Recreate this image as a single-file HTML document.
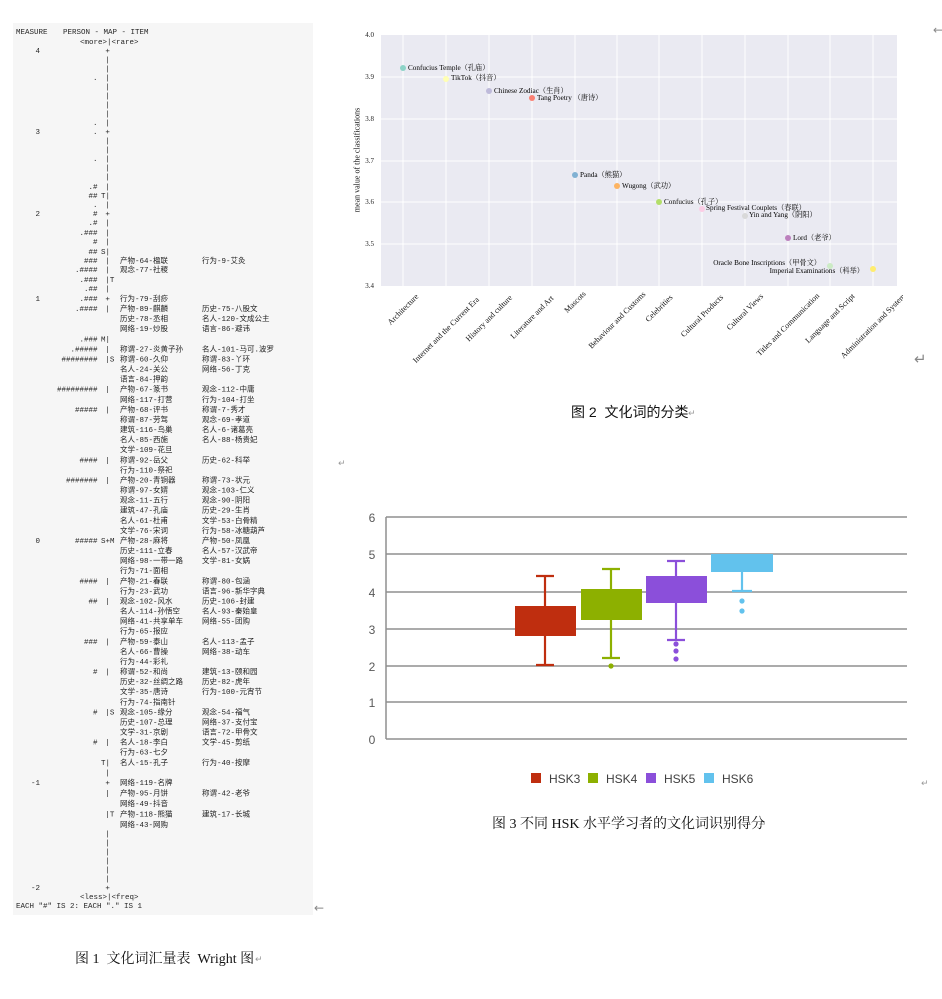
<!DOCTYPE html>
<html>
<head>
<meta charset="utf-8">
<style>
html,body{margin:0;padding:0;background:#fff;}
svg{display:block;}
</style>
</head>
<body>
<svg width="942" height="999" viewBox="0 0 942 999" xmlns="http://www.w3.org/2000/svg">
<rect x="0" y="0" width="942" height="999" fill="#ffffff"/>

<!-- ================= Figure 1: Wright map ================= -->
<rect x="13" y="23" width="300" height="892" fill="#f6f6f6"/>
<g font-family="'Liberation Mono','Noto Sans CJK SC',monospace" font-size="7.5" fill="#262626" dominant-baseline="central">
  <text x="16" y="33">MEASURE</text>
  <text x="63" y="33">PERSON - MAP - ITEM</text>
  <text x="80" y="43">&lt;more&gt;|&lt;rare&gt;</text>

  <!-- measure labels -->
  <g text-anchor="end">
    <text x="40" y="52">4</text>
    <text x="40" y="133">3</text>
    <text x="40" y="215">2</text>
    <text x="40" y="300">1</text>
    <text x="40" y="542">0</text>
    <text x="40" y="784">-1</text>
    <text x="40" y="889">-2</text>
  </g>

  <!-- person column -->
  <g text-anchor="end">
    <text x="97.5" y="79">.</text>
    <text x="97.5" y="124">.</text>
    <text x="97.5" y="133">.</text>
    <text x="97.5" y="160">.</text>
    <text x="97.5" y="188">.#</text>
    <text x="97.5" y="197">##</text>
    <text x="97.5" y="206">.</text>
    <text x="97.5" y="215">#</text>
    <text x="97.5" y="224">.#</text>
    <text x="97.5" y="234">.###</text>
    <text x="97.5" y="243">#</text>
    <text x="97.5" y="253">##</text>
    <text x="97.5" y="262">###</text>
    <text x="97.5" y="271">.####</text>
    <text x="97.5" y="281">.###</text>
    <text x="97.5" y="290">.##</text>
    <text x="97.5" y="300">.###</text>
    <text x="97.5" y="310.1">.####</text>
    <text x="97.5" y="340.3">.###</text>
    <text x="97.5" y="350.4">.#####</text>
    <text x="97.5" y="360.5">########</text>
    <text x="97.5" y="390.7">#########</text>
    <text x="97.5" y="410.9">#####</text>
    <text x="97.5" y="461.3">####</text>
    <text x="97.5" y="481.4">#######</text>
    <text x="97.5" y="541.9">#####</text>
    <text x="97.5" y="582.3">####</text>
    <text x="97.5" y="602.5">##</text>
    <text x="97.5" y="642.8">###</text>
    <text x="97.5" y="673">#</text>
    <text x="97.5" y="713.4">#</text>
    <text x="97.5" y="743.6">#</text>
  </g>

  <!-- center column -->
  <text x="105.4" y="52">+</text>
  <text x="105.4" y="61">|</text>
  <text x="105.4" y="70">|</text>
  <text x="105.4" y="79">|</text>
  <text x="105.4" y="88">|</text>
  <text x="105.4" y="97">|</text>
  <text x="105.4" y="106">|</text>
  <text x="105.4" y="115">|</text>
  <text x="105.4" y="124">|</text>
  <text x="105.4" y="133">+</text>
  <text x="105.4" y="142">|</text>
  <text x="105.4" y="151">|</text>
  <text x="105.4" y="160">|</text>
  <text x="105.4" y="169">|</text>
  <text x="105.4" y="178">|</text>
  <text x="105.4" y="188">|</text>
  <text x="101" y="197">T|</text>
  <text x="105.4" y="206">|</text>
  <text x="105.4" y="215">+</text>
  <text x="105.4" y="224">|</text>
  <text x="105.4" y="234">|</text>
  <text x="105.4" y="243">|</text>
  <text x="101" y="253">S|</text>
  <text x="105.4" y="262">|</text>
  <text x="105.4" y="271">|</text>
  <text x="105.4" y="281">|T</text>
  <text x="105.4" y="290">|</text>
  <text x="105.4" y="300">+</text>
  <text x="105.4" y="310.1">|</text>
  <text x="101" y="340.3">M|</text>
  <text x="105.4" y="350.4">|</text>
  <text x="105.4" y="360.5">|S</text>
  <text x="105.4" y="390.7">|</text>
  <text x="105.4" y="410.9">|</text>
  <text x="105.4" y="461.3">|</text>
  <text x="105.4" y="481.4">|</text>
  <text x="101" y="541.9">S+M</text>
  <text x="105.4" y="582.3">|</text>
  <text x="105.4" y="602.5">|</text>
  <text x="105.4" y="642.8">|</text>
  <text x="105.4" y="673">|</text>
  <text x="105.4" y="713.4">|S</text>
  <text x="105.4" y="743.6">|</text>
  <text x="101" y="763.8">T|</text>
  <text x="105.4" y="773.8">|</text>
  <text x="105.4" y="784">+</text>
  <text x="105.4" y="794.5">|</text>
  <text x="105.4" y="815.5">|T</text>
  <text x="105.4" y="835">|</text>
  <text x="105.4" y="844">|</text>
  <text x="105.4" y="853">|</text>
  <text x="105.4" y="862">|</text>
  <text x="105.4" y="871">|</text>
  <text x="105.4" y="880">|</text>
  <text x="105.4" y="889">+</text>
  <text x="80" y="898">&lt;less&gt;|&lt;freq&gt;</text>
  <text x="16" y="907">EACH "#" IS 2: EACH "." IS 1</text>

  <!-- items column 1 -->
  <g fill="#222">
    <text x="120" y="262">产物-64-楹联</text>
    <text x="120" y="271">观念-77-社稷</text>
    <text x="120" y="300">行为-79-刮痧</text>
    <text x="120" y="310.1">产物-89-麒麟</text>
    <text x="120" y="320.2">历史-78-丞相</text>
    <text x="120" y="330.2">网络-19-炒股</text>
    <text x="120" y="350.4">称谓-27-炎黄子孙</text>
    <text x="120" y="360.5">称谓-60-久仰</text>
    <text x="120" y="370.6">名人-24-关公</text>
    <text x="120" y="380.6">语言-84-押韵</text>
    <text x="120" y="390.7">产物-67-篆书</text>
    <text x="120" y="400.8">网络-117-打营</text>
    <text x="120" y="410.9">产物-68-评书</text>
    <text x="120" y="421">称谓-87-劳驾</text>
    <text x="120" y="431">建筑-116-鸟巢</text>
    <text x="120" y="441.1">名人-85-西施</text>
    <text x="120" y="451.2">文学-109-花旦</text>
    <text x="120" y="461.3">称谓-92-岳父</text>
    <text x="120" y="471.4">行为-110-祭祀</text>
    <text x="120" y="481.4">产物-20-青铜器</text>
    <text x="120" y="491.5">称谓-97-女婿</text>
    <text x="120" y="501.6">观念-11-五行</text>
    <text x="120" y="511.7">建筑-47-孔庙</text>
    <text x="120" y="521.8">名人-61-杜甫</text>
    <text x="120" y="531.8">文学-76-宋词</text>
    <text x="120" y="541.9">产物-28-麻将</text>
    <text x="120" y="552.1">历史-111-立春</text>
    <text x="120" y="562.2">网络-98-一带一路</text>
    <text x="120" y="572.2">行为-71-面相</text>
    <text x="120" y="582.3">产物-21-春联</text>
    <text x="120" y="592.4">行为-23-武功</text>
    <text x="120" y="602.5">观念-102-风水</text>
    <text x="120" y="612.6">名人-114-孙悟空</text>
    <text x="120" y="622.6">网络-41-共享单车</text>
    <text x="120" y="632.7">行为-65-报应</text>
    <text x="120" y="642.8">产物-59-泰山</text>
    <text x="120" y="652.9">名人-66-曹操</text>
    <text x="120" y="663">行为-44-彩礼</text>
    <text x="120" y="673">称谓-52-和尚</text>
    <text x="120" y="683.1">历史-32-丝绸之路</text>
    <text x="120" y="693.2">文学-35-唐诗</text>
    <text x="120" y="703.3">行为-74-指南针</text>
    <text x="120" y="713.4">观念-105-缘分</text>
    <text x="120" y="723.4">历史-107-总理</text>
    <text x="120" y="733.5">文学-31-京剧</text>
    <text x="120" y="743.6">名人-18-李白</text>
    <text x="120" y="753.7">行为-63-七夕</text>
    <text x="120" y="763.8">名人-15-孔子</text>
    <text x="120" y="784">网络-119-名牌</text>
    <text x="120" y="794.5">产物-95-月饼</text>
    <text x="120" y="805">网络-49-抖音</text>
    <text x="120" y="815.5">产物-118-熊猫</text>
    <text x="120" y="826">网络-43-网购</text>
  </g>
  <!-- items column 2 -->
  <g fill="#222">
    <text x="202" y="262">行为-9-艾灸</text>
    <text x="202" y="310.1">历史-75-八股文</text>
    <text x="202" y="320.2">名人-120-文成公主</text>
    <text x="202" y="330.2">语言-86-避讳</text>
    <text x="202" y="350.4">名人-101-马可.波罗</text>
    <text x="202" y="360.5">称谓-83-丫环</text>
    <text x="202" y="370.6">网络-56-丁克</text>
    <text x="202" y="390.7">观念-112-中庸</text>
    <text x="202" y="400.8">行为-104-打坐</text>
    <text x="202" y="410.9">称谓-7-秀才</text>
    <text x="202" y="421">观念-69-孝道</text>
    <text x="202" y="431">名人-6-诸葛亮</text>
    <text x="202" y="441.1">名人-88-杨贵妃</text>
    <text x="202" y="461.3">历史-62-科举</text>
    <text x="202" y="481.4">称谓-73-状元</text>
    <text x="202" y="491.5">观念-103-仁义</text>
    <text x="202" y="501.6">观念-90-阴阳</text>
    <text x="202" y="511.7">历史-29-生肖</text>
    <text x="202" y="521.8">文学-53-白骨精</text>
    <text x="202" y="531.8">行为-58-冰糖葫芦</text>
    <text x="202" y="541.9">产物-50-凤凰</text>
    <text x="202" y="552.1">名人-57-汉武帝</text>
    <text x="202" y="562.2">文学-81-女娲</text>
    <text x="202" y="582.3">称谓-80-包涵</text>
    <text x="202" y="592.4">语言-96-新华字典</text>
    <text x="202" y="602.5">历史-106-封建</text>
    <text x="202" y="612.6">名人-93-秦始皇</text>
    <text x="202" y="622.6">网络-55-团购</text>
    <text x="202" y="642.8">名人-113-孟子</text>
    <text x="202" y="652.9">网络-38-动车</text>
    <text x="202" y="673">建筑-13-颐和园</text>
    <text x="202" y="683.1">历史-82-虎年</text>
    <text x="202" y="693.2">行为-100-元宵节</text>
    <text x="202" y="713.4">观念-54-福气</text>
    <text x="202" y="723.4">网络-37-支付宝</text>
    <text x="202" y="733.5">语言-72-甲骨文</text>
    <text x="202" y="743.6">文学-45-剪纸</text>
    <text x="202" y="763.8">行为-40-按摩</text>
    <text x="202" y="794.5">称谓-42-老爷</text>
    <text x="202" y="815.5">建筑-17-长城</text>
  </g>
</g>

<!-- ================= Figure 2: scatter ================= -->
<defs>
  <clipPath id="c2"><rect x="338" y="22" width="565" height="348"/></clipPath>
</defs>
<g clip-path="url(#c2)">
  <rect x="381" y="35" width="516" height="251" fill="#eaeaf2"/>
  <g stroke="#ffffff" stroke-width="1">
    <line x1="381" y1="77" x2="897" y2="77"/>
    <line x1="381" y1="119" x2="897" y2="119"/>
    <line x1="381" y1="161" x2="897" y2="161"/>
    <line x1="381" y1="202" x2="897" y2="202"/>
    <line x1="381" y1="244" x2="897" y2="244"/>
    <line x1="403" y1="35" x2="403" y2="286"/>
    <line x1="446" y1="35" x2="446" y2="286"/>
    <line x1="489" y1="35" x2="489" y2="286"/>
    <line x1="532" y1="35" x2="532" y2="286"/>
    <line x1="575" y1="35" x2="575" y2="286"/>
    <line x1="617" y1="35" x2="617" y2="286"/>
    <line x1="659" y1="35" x2="659" y2="286"/>
    <line x1="702" y1="35" x2="702" y2="286"/>
    <line x1="745" y1="35" x2="745" y2="286"/>
    <line x1="788" y1="35" x2="788" y2="286"/>
    <line x1="830" y1="35" x2="830" y2="286"/>
    <line x1="873" y1="35" x2="873" y2="286"/>
  </g>
  <!-- y ticks -->
  <g font-family="'Liberation Serif',serif" font-size="7" fill="#222" text-anchor="end" dominant-baseline="central">
    <text x="374" y="35">4.0</text>
    <text x="374" y="77">3.9</text>
    <text x="374" y="119">3.8</text>
    <text x="374" y="161">3.7</text>
    <text x="374" y="202">3.6</text>
    <text x="374" y="244">3.5</text>
    <text x="374" y="286">3.4</text>
  </g>
  <text x="0" y="0" transform="translate(357,160) rotate(-90)" font-family="'Liberation Serif',serif" font-size="8" fill="#111" text-anchor="middle" dominant-baseline="central">mean value of the classifications</text>

  <!-- points -->
  <circle cx="403" cy="68" r="3" fill="#8dd3c7"/>
  <circle cx="446" cy="79" r="3" fill="#ffffb3"/>
  <circle cx="489" cy="91" r="3" fill="#bebada"/>
  <circle cx="532" cy="98" r="3" fill="#fb8072"/>
  <circle cx="575" cy="175" r="3" fill="#80b1d3"/>
  <circle cx="617" cy="186" r="3" fill="#fdb462"/>
  <circle cx="659" cy="202" r="3" fill="#b3de69"/>
  <circle cx="702" cy="209" r="3" fill="#fccde5"/>
  <circle cx="745" cy="216" r="3" fill="#d9d9d9"/>
  <circle cx="788" cy="238" r="3" fill="#bc80bd"/>
  <circle cx="830" cy="266" r="3" fill="#ccebc5"/>
  <circle cx="873" cy="269" r="3" fill="#ffed6f"/>

  <g font-family="'Liberation Serif','Noto Serif CJK SC',serif" font-size="7.2" fill="#000" dominant-baseline="central">
    <text x="408" y="68">Confucius Temple（孔庙）</text>
    <text x="451" y="78">TikTok（抖音）</text>
    <text x="494" y="91">Chinese Zodiac（生肖）</text>
    <text x="537" y="98">Tang Poetry （唐诗）</text>
    <text x="580" y="175">Panda（熊猫）</text>
    <text x="622" y="186">Wugong（武功）</text>
    <text x="664" y="202">Confucius（孔子）</text>
    <text x="706" y="208">Spring Festival Couplets（春联）</text>
    <text x="749" y="215">Yin and Yang（阴阳）</text>
    <text x="793" y="238">Lord（老爷）</text>
    <text x="821" y="263" text-anchor="end">Oracle Bone Inscriptions（甲骨文）</text>
    <text x="864" y="271" text-anchor="end">Imperial Examinations（科举）</text>
  </g>

  <!-- x tick labels -->
  <g font-family="'Liberation Serif',serif" font-size="8" fill="#111" text-anchor="middle" dominant-baseline="central">
    <text transform="translate(403,309.4) rotate(-45)">Architecture</text>
    <text transform="translate(446,329.9) rotate(-45)">Internet and the Current Era</text>
    <text transform="translate(489,318.3) rotate(-45)">History and culture</text>
    <text transform="translate(532,317.2) rotate(-45)">Literature and Art</text>
    <text transform="translate(575,302.0) rotate(-45)">Mascots</text>
    <text transform="translate(617,320.1) rotate(-45)">Behaviour and Customs</text>
    <text transform="translate(659,308.3) rotate(-45)">Celebrities</text>
    <text transform="translate(702,315.8) rotate(-45)">Cultural Products</text>
    <text transform="translate(745,311.9) rotate(-45)">Cultural Views</text>
    <text transform="translate(788,324.6) rotate(-45)">Titles and Communication</text>
    <text transform="translate(830,318.3) rotate(-45)">Language and Script</text>
    <text transform="translate(873,326.0) rotate(-45)">Administration and System</text>
  </g>
</g>

<!-- caption 2 -->
<text x="571" y="417" font-family="'Liberation Sans','Noto Sans CJK SC',sans-serif" font-size="14" fill="#111" xml:space="preserve">图 2  文化词的分类</text>
<text x="688" y="416" font-family="'DejaVu Sans',sans-serif" font-size="9" fill="#999">↵</text>
<text x="338" y="466" font-family="'DejaVu Sans',sans-serif" font-size="9" fill="#999">↵</text>

<!-- ================= Figure 3: box plot ================= -->
<g stroke="#8f8f8f" stroke-width="1.5">
  <line x1="386" y1="517" x2="907" y2="517"/>
  <line x1="386" y1="554" x2="907" y2="554"/>
  <line x1="386" y1="592" x2="907" y2="592"/>
  <line x1="386" y1="629" x2="907" y2="629"/>
  <line x1="386" y1="666" x2="907" y2="666"/>
  <line x1="386" y1="702" x2="907" y2="702"/>
  <line x1="386" y1="739" x2="907" y2="739"/>
  <line x1="386" y1="517" x2="386" y2="739"/>
</g>
<g font-family="'Liberation Sans','DejaVu Sans',sans-serif" font-size="12" fill="#595959" text-anchor="middle" dominant-baseline="central">
  <text x="372" y="518">6</text>
  <text x="372" y="555">5</text>
  <text x="372" y="593">4</text>
  <text x="372" y="630">3</text>
  <text x="372" y="667">2</text>
  <text x="372" y="703">1</text>
  <text x="372" y="740">0</text>
</g>

<!-- HSK3 -->
<g stroke="#bf2e0f" stroke-width="2.2" fill="none">
  <line x1="545" y1="576" x2="545" y2="606"/>
  <line x1="545" y1="636" x2="545" y2="665"/>
  <line x1="536" y1="576" x2="554" y2="576"/>
  <line x1="536" y1="665" x2="554" y2="665"/>
</g>
<rect x="515" y="606" width="61" height="30" fill="#bf2e0f"/>

<!-- HSK4 -->
<g stroke="#8db000" stroke-width="2.2" fill="none">
  <line x1="611" y1="569" x2="611" y2="589"/>
  <line x1="611" y1="620" x2="611" y2="658"/>
  <line x1="602" y1="569" x2="620" y2="569"/>
  <line x1="602" y1="658" x2="620" y2="658"/>
</g>
<rect x="581" y="589" width="61" height="31" fill="#8db000"/>
<circle cx="611" cy="666" r="2.6" fill="#8db000"/>

<!-- HSK5 -->
<g stroke="#8b4fda" stroke-width="2.2" fill="none">
  <line x1="676" y1="561" x2="676" y2="576"/>
  <line x1="676" y1="603" x2="676" y2="640"/>
  <line x1="667" y1="561" x2="685" y2="561"/>
  <line x1="667" y1="640" x2="685" y2="640"/>
</g>
<rect x="646" y="576" width="61" height="27" fill="#8b4fda"/>
<circle cx="676" cy="644" r="2.6" fill="#8b4fda"/>
<circle cx="676" cy="651" r="2.6" fill="#8b4fda"/>
<circle cx="676" cy="659" r="2.6" fill="#8b4fda"/>

<!-- HSK6 -->
<g stroke="#62c2ed" stroke-width="2.2" fill="none">
  <line x1="742" y1="572" x2="742" y2="591"/>
  <line x1="732" y1="591" x2="752" y2="591"/>
</g>
<rect x="711" y="554" width="62" height="18" fill="#62c2ed"/>
<circle cx="742" cy="601" r="2.6" fill="#62c2ed"/>
<circle cx="742" cy="611" r="2.6" fill="#62c2ed"/>

<!-- legend -->
<rect x="531" y="773" width="10" height="10" fill="#bf2e0f"/>
<rect x="588" y="773" width="10" height="10" fill="#8db000"/>
<rect x="646" y="773" width="10" height="10" fill="#8b4fda"/>
<rect x="704" y="773" width="10" height="10" fill="#62c2ed"/>
<g font-family="'Liberation Sans','DejaVu Sans',sans-serif" font-size="12" fill="#404040">
  <text x="549" y="783">HSK3</text>
  <text x="606" y="783">HSK4</text>
  <text x="664" y="783">HSK5</text>
  <text x="722" y="783">HSK6</text>
</g>
<text x="921" y="786" font-family="'DejaVu Sans',sans-serif" font-size="9" fill="#999">↵</text>

<!-- caption 3 -->
<text x="492" y="828" font-family="'Liberation Serif','Noto Serif CJK SC',serif" font-size="14" fill="#111">图 3 不同 HSK 水平学习者的文化词识别得分</text>
<text x="759" y="827" font-family="'DejaVu Sans',sans-serif" font-size="9" fill="#999">↵</text>

<!-- caption 1 -->
<text x="75" y="963" font-family="'Liberation Serif','Noto Serif CJK SC',serif" font-size="14" fill="#111" xml:space="preserve">图 1  文化词汇量表  Wright 图</text>
<text x="255" y="962" font-family="'DejaVu Sans',sans-serif" font-size="9" fill="#999">↵</text>

<!-- misc return marks -->
<text x="933" y="34" font-family="'DejaVu Sans',sans-serif" font-size="12" fill="#888">←</text>
<text x="914" y="364" font-family="'DejaVu Sans',sans-serif" font-size="15" fill="#888">↵</text>
<text x="314" y="912" font-family="'DejaVu Sans',sans-serif" font-size="12" fill="#888">←</text>
</svg>
</body>
</html>
